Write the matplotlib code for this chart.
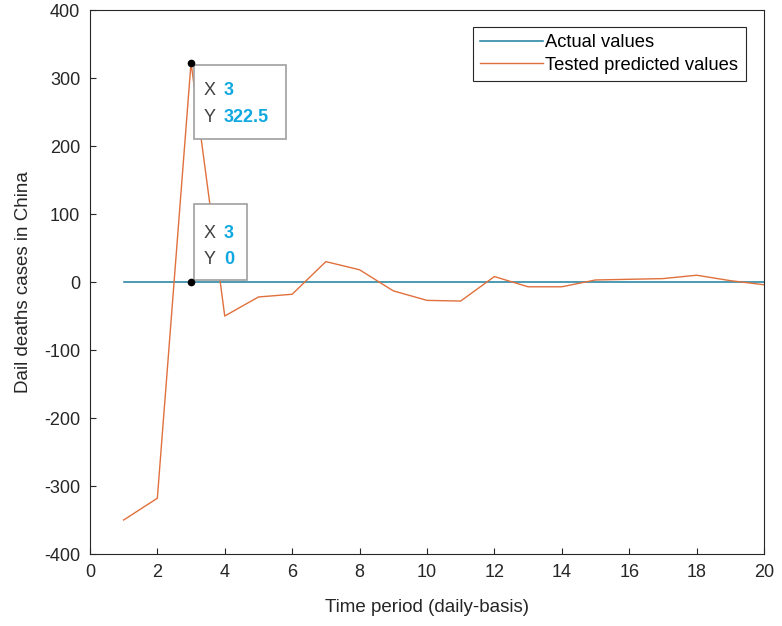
import matplotlib
matplotlib.use("Agg")
from matplotlib import pyplot as plt
from matplotlib import transforms as mtransforms
from matplotlib.patches import Rectangle

plt.rcParams['font.family'] = ['Liberation Sans', 'DejaVu Sans']
plt.rcParams['axes.unicode_minus'] = False

days = list(range(1, 21))
actual = [0] * 20
predicted = [-350, -318, 322.5, -50, -22, -18, 30, 18, -13, -27,
             -28, 8, -7, -7, 3, 4, 5, 10, 2, -4]
x_ticks = list(range(0, 21, 2))
y_ticks = list(range(-400, 401, 100))
tip_index = 2

fig = plt.figure(figsize=(7.82, 6.26), dpi=100)
ax = fig.add_axes([0.115, 0.115, 0.862, 0.869])

ax.plot(days, actual, color='#1a7e9e', linewidth=1.1, label='Actual values')
ax.plot(days, predicted, color='#e0703c', linewidth=1.0, label='Tested predicted values')

ax.set_xlim(0, 20)
ax.set_ylim(-400, 400)
ax.set_xticks(x_ticks)
ax.set_yticks(y_ticks)
ax.tick_params(direction='in', length=4, labelsize=13, colors='#262626', pad=7)
for s in ax.spines.values():
    s.set_color('#262626')
    s.set_linewidth(0.8)
ax.set_xlabel('Time period (daily-basis)', fontsize=13.5, color='#262626', labelpad=13)
ax.set_ylabel('Dail deaths cases in China', fontsize=13.5, color='#262626', labelpad=9)

leg = ax.legend(loc='upper right', bbox_to_anchor=(0.973, 0.969), borderaxespad=0,
                fontsize=13.2, fancybox=False, framealpha=1, edgecolor='#262626',
                handlelength=3.4, handletextpad=0.15, borderpad=0.4, labelspacing=0.3)
leg.get_frame().set_linewidth(0.8)


def datatip(xv, yv, box, rows):
    # box and rows are offsets in pixels from the data point
    tr = mtransforms.ScaledTranslation(xv, yv, ax.transData)
    bx, by, bw, bh = box
    ax.add_patch(Rectangle((bx, by), bw, bh, transform=tr, facecolor='white',
                           edgecolor='#a0a0a0', linewidth=1.2, zorder=5, clip_on=False))
    for (lab, val, ty) in rows:
        ax.text(bx + 10, ty, lab, transform=tr, fontsize=13, color='#404040',
                va='center', zorder=6)
        ax.text(bx + 30, ty, val, transform=tr, fontsize=13, color='#10a8e0',
                fontweight='bold', va='center', zorder=6)
    ax.plot([xv], [yv], 'o', color='black', markersize=4.5, zorder=7, clip_on=False)


xt, yt = days[tip_index], predicted[tip_index]
datatip(xt, yt, (3, -76, 92, 74), [('X', '%g' % xt, -28), ('Y', '%g' % yt, -55)])
xt, yt = days[tip_index], actual[tip_index]
datatip(xt, yt, (3, 2, 53, 76), [('X', '%g' % xt, 49), ('Y', '%g' % yt, 23)])

fig.savefig('out.png', dpi=100)
